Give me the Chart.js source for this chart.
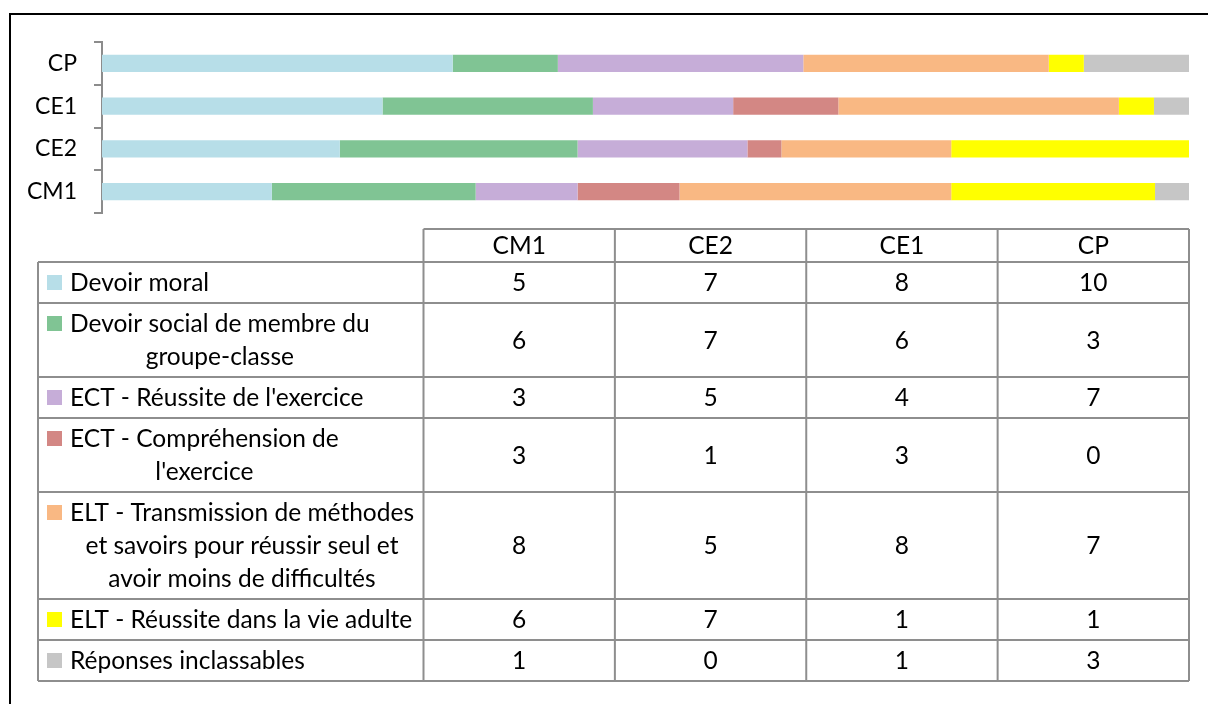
<!DOCTYPE html>
<html><head><meta charset="utf-8">
<script src="https://cdn.jsdelivr.net/npm/chart.js@4/dist/chart.umd.min.js"></script>
<style>html,body{margin:0;padding:0;background:#fff;overflow:hidden}#wrap{position:relative;width:1208px;height:704px}</style>
</head><body><div id="wrap"><canvas id="c" width="1208" height="704"></canvas></div>
<script>
// ---- data ----
const categories = ['CM1', 'CE2', 'CE1', 'CP'];
const seriesNames = [
  ['Devoir moral'],
  ['Devoir social de membre du', 'groupe-classe'],
  ["ECT - Réussite de l'exercice"],
  ['ECT - Compréhension de', "l'exercice"],
  ['ELT - Transmission de méthodes', 'et savoirs pour réussir seul et', 'avoir moins de difficultés'],
  ['ELT - Réussite dans la vie adulte'],
  ['Réponses inclassables']
];
const devoirMoral      = [5, 7, 8, 10];
const devoirSocial     = [6, 7, 6, 3];
const ectReussite      = [3, 5, 4, 7];
const ectComprehension = [3, 1, 3, 0];
const eltTransmission  = [8, 5, 8, 7];
const eltVieAdulte     = [6, 7, 1, 1];
const inclassables     = [1, 0, 1, 3];

const seriesValues = [devoirMoral, devoirSocial, ectReussite, ectComprehension, eltTransmission, eltVieAdulte, inclassables];
const seriesColors = ['#B7DEE8', '#80C494', '#C6ADD8', '#D38784', '#F9B883', '#FFFF00', '#C6C6C6'];

const totals = categories.map((_, i) => seriesValues.reduce((s, arr) => s + arr[i], 0));

const FONT = 'Lato';
const FSIZE = 24.5;

const datasets = seriesValues.map((vals, k) => ({
  label: seriesNames[k].join(' '),
  raw: vals,
  data: vals.map((v, i) => v / totals[i] * 100),
  backgroundColor: seriesColors[k],
  borderWidth: 0,
  categoryPercentage: 1,
  barPercentage: 0.4
}));

const tablePlugin = {
  id: 'dataTable',
  afterDraw(chart) {
    const ctx = chart.ctx;
    const ca = chart.chartArea;
    ctx.save();
    // outer frame
    ctx.strokeStyle = '#000';
    ctx.lineWidth = 2;
    ctx.strokeRect(10, 14, 1400, 1000);

    const left = 38, labRight = 423.5, right = ca.right;
    const headTop = 229, headBot = 262;
    const lineH = 33, pad = 4;
    const colW = (right - labRight) / categories.length;
    const rowTops = [headBot];
    seriesNames.forEach(n => rowTops.push(rowTops[rowTops.length - 1] + n.length * lineH + 2 * pad));
    const bottom = rowTops[rowTops.length - 1];

    ctx.strokeStyle = '#8E8E8E';
    ctx.lineWidth = 2;
    ctx.beginPath();
    ctx.moveTo(labRight, headTop); ctx.lineTo(right, headTop);
    rowTops.forEach(y => { ctx.moveTo(left, y); ctx.lineTo(right, y); });
    ctx.moveTo(left, headBot); ctx.lineTo(left, bottom);
    for (let c = 0; c <= categories.length; c++) {
      const x = labRight + c * colW;
      ctx.moveTo(x, headTop); ctx.lineTo(x, bottom);
    }
    ctx.stroke();

    ctx.fillStyle = '#000';
    ctx.font = FSIZE + 'px ' + FONT;
    ctx.textBaseline = 'middle';
    ctx.textAlign = 'center';
    // header
    categories.forEach((c, i) => ctx.fillText(c, labRight + (i + 0.5) * colW, (headTop + headBot) / 2 + 1));
    // rows
    chart.data.datasets.forEach((ds, k) => {
      const top = rowTops[k], bot = rowTops[k + 1];
      const lines = seriesNames[k];
      // swatch
      ctx.fillStyle = ds.backgroundColor;
      ctx.fillRect(47, top + pad + lineH / 2 - 7.5, 15, 15);
      ctx.fillStyle = '#000';
      const widths = lines.map(l => ctx.measureText(l).width);
      const maxW = Math.max(...widths);
      const cx = 70 + maxW / 2;
      lines.forEach((l, j) => ctx.fillText(l, cx, top + pad + j * lineH + lineH / 2 + 1));
      ds.raw.forEach((v, i) => ctx.fillText(String(v), labRight + (i + 0.5) * colW, (top + bot) / 2 + 1));
    });
    ctx.restore();
  }
};

new Chart(document.getElementById('c'), {
  type: 'bar',
  data: { labels: categories, datasets },
  options: {
    indexAxis: 'y',
    responsive: false,
    animation: false,
    layout: { padding: { left: 0, top: 42, right: 19, bottom: 491 } },
    plugins: { legend: { display: false }, tooltip: { enabled: false } },
    scales: {
      x: { stacked: true, display: false, min: 0, max: 100 },
      y: {
        stacked: true,
        reverse: true,
        grid: { display: true, drawOnChartArea: false, drawTicks: true, tickLength: 8, color: '#8C8C8C', lineWidth: 2, offset: true },
        border: { display: true, color: '#8C8C8C', width: 2 },
        ticks: { color: '#000', font: { family: FONT, size: 23 }, padding: 17 },
        afterFit(s) { s.width = 102; }
      }
    }
  },
  plugins: [tablePlugin]
});
</script>
</body></html>
